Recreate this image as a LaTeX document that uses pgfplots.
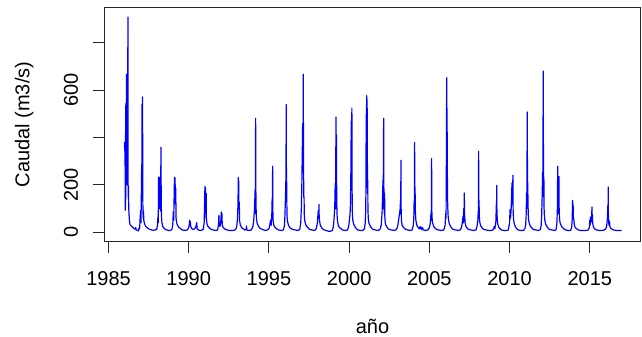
\documentclass[border=0pt]{standalone}
\usepackage{pgfplots}
\pgfplotsset{compat=1.18}
\usepackage{fontspec}
\setmainfont{Liberation Sans}
\pgfplotstableread{
x y
1986.00 360
1986.01 380
1986.015 345
1986.02 372
1986.03 350
1986.04 120
1986.045 93
1986.05 300
1986.055 110
1986.06 420
1986.07 140
1986.08 545
1986.09 400
1986.10 530
1986.11 300
1986.12 667
1986.14 500
1986.16 200
1986.19 450
1986.21 908
1986.215 600
1986.22 220
1986.23 150
1986.24 197
1986.25 140
1986.26 100
1986.28 72
1986.31 45
1986.34 34
1986.40 28
1986.48 24
1986.56 18
1986.64 14
1986.70 20
1986.72 10
1986.80 9
1986.86 6
1986.90 18
1986.93 15
1986.95 30
1986.97 60
1987.00 93
1987.02 40
1987.04 120
1987.06 255
1987.07 150
1987.09 540
1987.10 300
1987.12 571
1987.13 350
1987.14 120
1987.16 60
1987.18 90
1987.20 50
1987.25 35
1987.32 25
1987.40 20
1987.50 15
1987.60 12
1987.70 10
1987.80 9
1987.90 10
1988.00 12
1988.05 30
1988.08 65
1988.10 40
1988.12 233
1988.14 120
1988.16 220
1988.18 100
1988.20 233
1988.22 150
1988.24 90
1988.27 359
1988.28 200
1988.30 70
1988.33 40
1988.38 25
1988.45 18
1988.55 12
1988.65 10
1988.75 8
1988.85 8
1988.95 12
1989.00 30
1989.04 86
1989.06 50
1989.09 150
1989.11 231
1989.12 180
1989.14 231
1989.16 185
1989.17 120
1989.19 185
1989.21 60
1989.25 40
1989.30 30
1989.40 20
1989.50 15
1989.60 10
1989.70 9
1989.80 8
1989.90 10
1990.00 20
1990.04 35
1990.06 51
1990.08 30
1990.10 45
1990.12 25
1990.20 15
1990.30 12
1990.40 18
1990.45 25
1990.50 41
1990.52 15
1990.60 10
1990.75 8
1990.90 12
1990.96 40
1990.98 100
1991.01 194
1991.02 80
1991.04 120
1991.05 187
1991.07 60
1991.09 164
1991.10 60
1991.14 35
1991.20 25
1991.30 18
1991.40 12
1991.55 10
1991.70 8
1991.80 10
1991.85 30
1991.88 72
1991.90 30
1991.95 25
1992.00 50
1992.03 86
1992.05 40
1992.07 79
1992.09 30
1992.15 20
1992.25 14
1992.40 10
1992.55 8
1992.70 8
1992.85 9
1992.95 15
1993.00 30
1993.04 60
1993.07 120
1993.09 231
1993.10 150
1993.11 224
1993.13 100
1993.15 128
1993.17 50
1993.22 30
1993.30 20
1993.40 15
1993.50 10
1993.58 12
1993.60 27
1993.62 10
1993.75 8
1993.90 10
1994.00 25
1994.05 50
1994.10 100
1994.14 182
1994.15 80
1994.17 481
1994.18 200
1994.20 100
1994.22 60
1994.26 40
1994.32 30
1994.40 20
1994.50 15
1994.60 12
1994.70 10
1994.80 8
1994.90 10
1995.00 15
1995.05 30
1995.10 51
1995.14 30
1995.18 80
1995.20 145
1995.21 60
1995.23 279
1995.24 100
1995.26 50
1995.30 30
1995.40 20
1995.50 14
1995.60 10
1995.75 8
1995.90 10
1995.97 30
1996.00 80
1996.03 150
1996.06 233
1996.08 539
1996.09 200
1996.10 233
1996.12 100
1996.13 65
1996.16 45
1996.22 30
1996.30 20
1996.40 15
1996.50 12
1996.65 10
1996.80 8
1996.92 12
1996.98 40
1997.02 100
1997.05 200
1997.08 350
1997.10 459
1997.12 300
1997.14 667
1997.15 400
1997.16 248
1997.17 150
1997.19 149
1997.20 80
1997.23 50
1997.28 35
1997.35 25
1997.45 18
1997.55 12
1997.70 10
1997.85 8
1997.95 15
1998.02 40
1998.05 70
1998.08 93
1998.10 60
1998.12 118
1998.13 70
1998.15 50
1998.20 30
1998.30 18
1998.40 12
1998.55 8
1998.70 5
1998.85 5
1998.95 8
1999.02 25
1999.06 60
1999.10 100
1999.13 206
1999.15 100
1999.18 487
1999.19 300
1999.21 411
1999.22 200
1999.24 80
1999.27 50
1999.32 30
1999.40 20
1999.50 15
1999.60 10
1999.75 8
1999.90 10
1999.97 25
2000.03 60
2000.07 93
2000.10 200
2000.13 470
2000.14 300
2000.17 524
2000.18 200
2000.20 80
2000.23 50
2000.28 35
2000.35 25
2000.45 15
2000.55 10
2000.70 8
2000.85 8
2000.95 15
2001.00 40
2001.03 89
2001.05 200
2001.06 497
2001.07 300
2001.09 577
2001.10 400
2001.12 560
2001.13 300
2001.14 283
2001.15 180
2001.16 220
2001.17 100
2001.19 60
2001.23 40
2001.30 28
2001.40 18
2001.50 12
2001.65 10
2001.80 8
2001.92 12
2002.00 30
2002.05 80
2002.08 150
2002.11 220
2002.12 100
2002.15 481
2002.16 200
2002.18 142
2002.19 80
2002.21 166
2002.22 70
2002.25 40
2002.30 28
2002.40 18
2002.50 12
2002.65 10
2002.80 8
2002.95 12
2003.02 25
2003.08 50
2003.14 80
2003.18 100
2003.20 135
2003.21 80
2003.23 304
2003.24 100
2003.26 50
2003.30 30
2003.40 20
2003.50 14
2003.65 10
2003.80 8
2003.92 10
2004.00 30
2004.03 60
2004.05 128
2004.06 80
2004.08 379
2004.09 200
2004.11 177
2004.13 80
2004.16 50
2004.22 30
2004.30 20
2004.38 15
2004.42 25
2004.45 15
2004.50 22
2004.53 12
2004.58 20
2004.62 10
2004.75 8
2004.90 10
2005.00 20
2005.06 40
2005.10 79
2005.12 50
2005.14 311
2005.15 100
2005.17 60
2005.20 40
2005.27 25
2005.35 18
2005.45 12
2005.60 10
2005.75 8
2005.90 10
2005.98 30
2006.02 79
2006.04 60
2006.06 300
2006.08 652
2006.09 400
2006.10 522
2006.12 283
2006.13 150
2006.15 100
2006.17 70
2006.20 50
2006.25 35
2006.32 25
2006.40 18
2006.50 12
2006.65 10
2006.80 8
2006.92 10
2007.00 20
2007.05 40
2007.10 68
2007.12 40
2007.14 100
2007.16 80
2007.18 166
2007.19 80
2007.21 62
2007.23 40
2007.28 25
2007.35 18
2007.45 12
2007.60 10
2007.75 8
2007.90 10
2007.97 25
2008.02 50
2008.05 90
2008.06 60
2008.07 342
2008.08 150
2008.10 113
2008.12 60
2008.15 40
2008.20 28
2008.30 18
2008.40 12
2008.55 10
2008.70 8
2008.85 8
2008.95 10
2009.00 15
2009.05 25
2009.08 15
2009.12 30
2009.15 50
2009.17 114
2009.18 60
2009.20 198
2009.21 90
2009.23 58
2009.26 35
2009.32 22
2009.40 15
2009.50 10
2009.65 8
2009.80 8
2009.92 10
2010.00 40
2010.03 96
2010.06 60
2010.10 100
2010.15 208
2010.17 120
2010.21 241
2010.22 100
2010.24 60
2010.28 40
2010.35 25
2010.45 15
2010.55 10
2010.70 8
2010.85 8
2010.95 15
2011.00 30
2011.03 65
2011.06 166
2011.08 100
2011.10 508
2011.11 200
2011.12 311
2011.13 150
2011.15 156
2011.16 80
2011.19 50
2011.24 35
2011.30 25
2011.40 18
2011.50 12
2011.65 10
2011.80 8
2011.92 12
2011.97 30
2012.00 72
2012.03 150
2012.06 255
2012.07 150
2012.10 680
2012.11 300
2012.12 283
2012.13 150
2012.14 220
2012.15 100
2012.17 72
2012.20 50
2012.25 35
2012.32 25
2012.40 18
2012.50 12
2012.65 10
2012.80 8
2012.90 12
2012.95 40
2012.98 100
2013.00 279
2013.01 120
2013.03 149
2013.04 80
2013.06 150
2013.08 236
2013.09 100
2013.11 60
2013.15 40
2013.22 28
2013.30 20
2013.40 14
2013.50 10
2013.65 8
2013.80 8
2013.87 20
2013.90 51
2013.93 135
2013.94 100
2013.96 117
2013.98 60
2014.01 51
2014.04 30
2014.10 20
2014.20 14
2014.30 10
2014.45 8
2014.60 8
2014.75 8
2014.90 10
2014.97 20
2015.00 51
2015.02 30
2015.04 65
2015.06 40
2015.08 60
2015.10 45
2015.12 80
2015.14 107
2015.15 50
2015.17 75
2015.18 40
2015.20 30
2015.25 20
2015.35 12
2015.45 10
2015.60 8
2015.75 8
2015.90 10
2016.00 15
2016.05 25
2016.10 60
2016.13 118
2016.14 70
2016.15 191
2016.16 80
2016.18 40
2016.20 30
2016.23 48
2016.25 25
2016.30 18
2016.40 12
2016.50 10
2016.65 8
2016.80 8
2016.98 8
}\caudal
\begin{document}
\begin{tikzpicture}
\path[use as bounding box] (-105bp,-96bp) rectangle (537bp,241bp);
\begin{axis}[
  at={(0,0)}, anchor=south west,
  scale only axis,
  width=535bp, height=233bp,
  xmin=1984.78, xmax=2018.13,
  ymin=-36.4, ymax=946,
  xtick={1985,1990,1995,2000,2005,2010,2015},
  xticklabels={1985,1990,1995,2000,2005,2010,2015},
  ytick={0,200,400,600,800},
  yticklabels={0,200,,600,},
  tick pos=left,
  tick align=outside,
  major tick length=11.5bp,
  minor tick num=0,
  axis line style={black!85, line width=1bp},
  tick style={black!85, line width=1bp},
  xticklabel style={font=\fontsize{20bp}{24bp}\selectfont, anchor=base, yshift=-32.5bp},
  yticklabel style={font=\fontsize{20bp}{24bp}\selectfont, xshift=-15.5bp, rotate=90, anchor=base},
  every axis x label/.style={at={(axis description cs:0.5,0)}, yshift=-92bp, anchor=base, font=\fontsize{20bp}{24bp}\selectfont},
  every axis y label/.style={at={(axis description cs:0,0.5)}, xshift=-75.5bp, rotate=90, anchor=base, font=\fontsize{20bp}{24bp}\selectfont},
  xlabel={año},
  ylabel={Caudal (m3/s)},
  clip=true,
]
\addplot[blue, line width=1.2bp, line join=round] table[x=x,y=y] {\caudal};
\end{axis}
\end{tikzpicture}
\end{document}
